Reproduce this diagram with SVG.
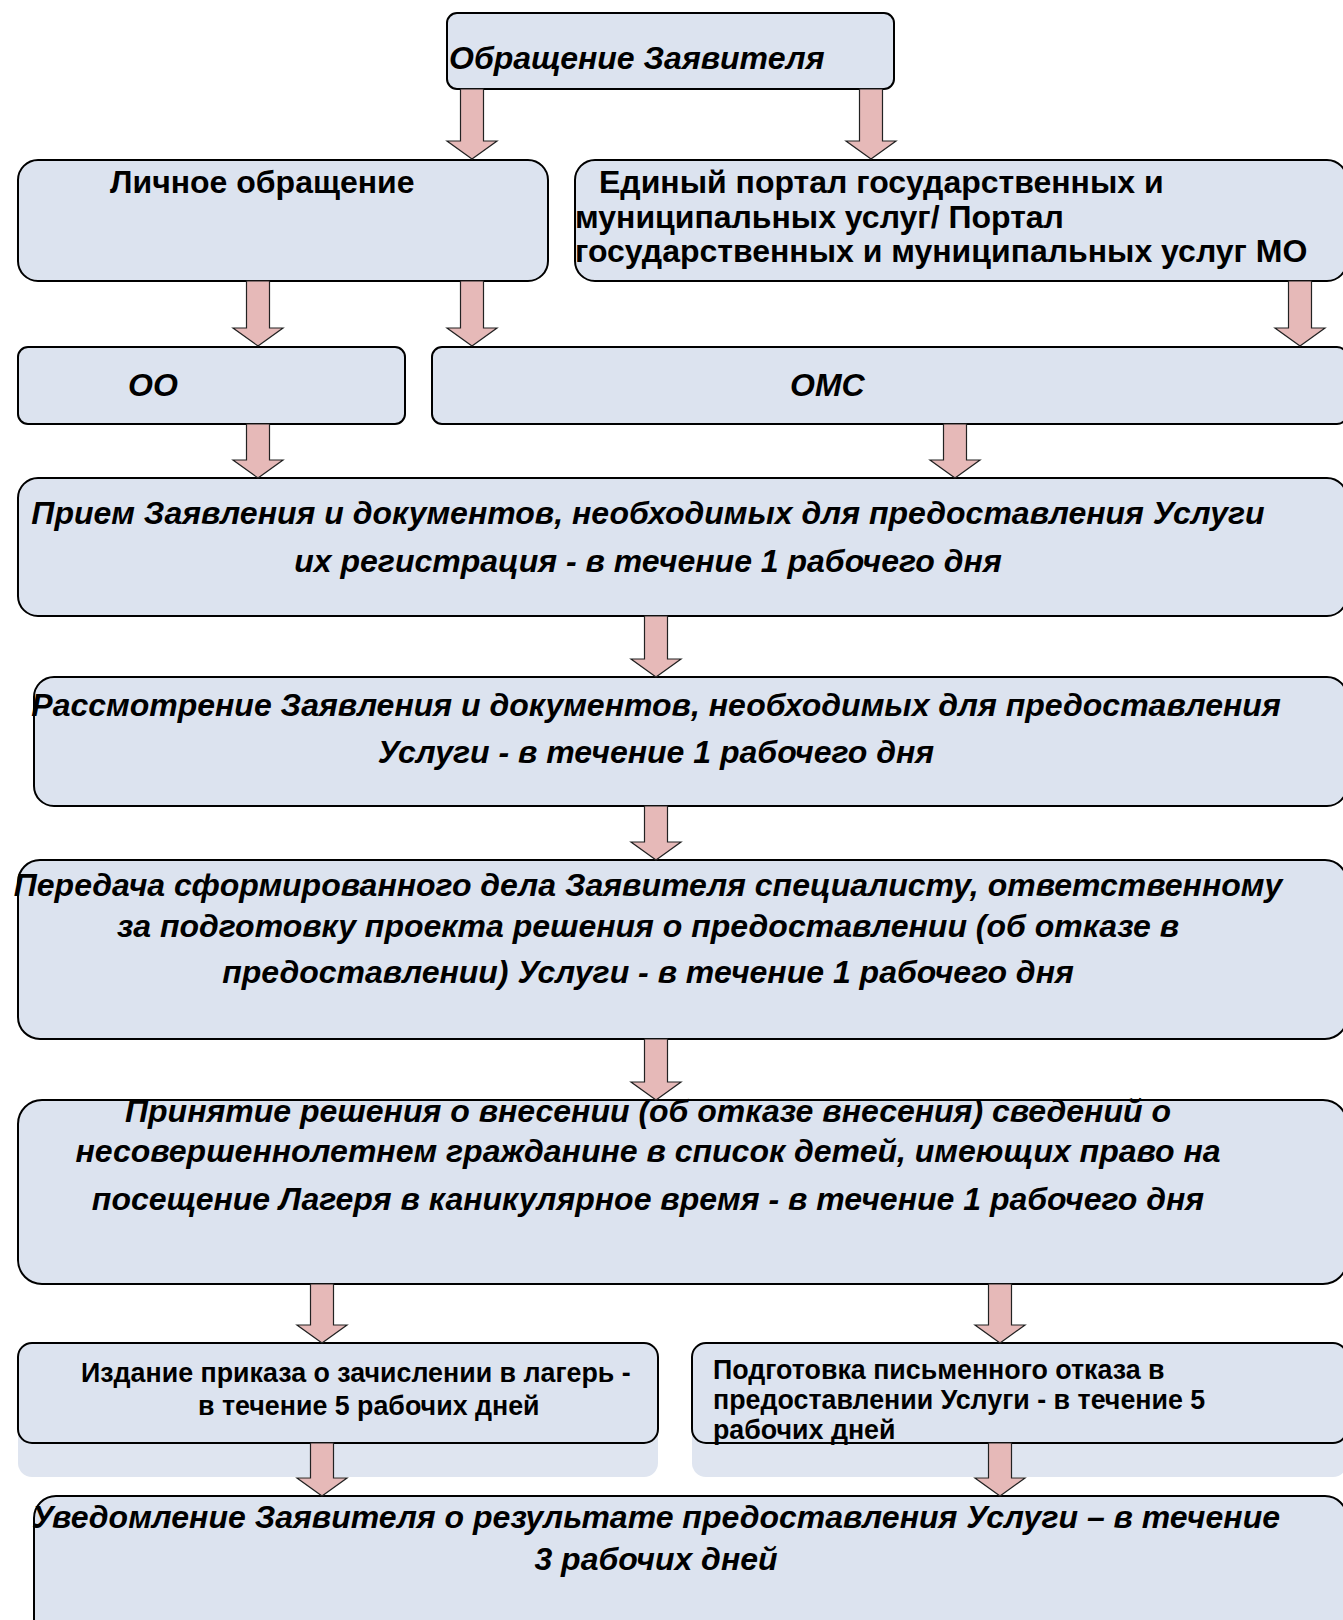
<svg xmlns="http://www.w3.org/2000/svg" width="1343" height="1620" viewBox="0 0 1343 1620">
<style>
.box{fill:#dce3ef;stroke:#000;stroke-width:2}
.shadow{fill:#dfe5f0;stroke:none}
.arr{fill:#e6b9b8;stroke:#222;stroke-width:1.2}
.t{font-family:"Liberation Sans",Arial,sans-serif;font-weight:bold;fill:#000}
.i{font-style:italic}
.f30{font-size:32px}
.f24{font-size:26.8px}
.m{text-anchor:middle}
</style>
<rect width="1343" height="1620" fill="#fff"/>
<g id="nodes">
<g id="n-obr"><rect class="box" x="447" y="13" width="447" height="76" rx="10"/><text class="t i f30" x="449" y="69">Обращение Заявителя</text></g>
<g id="n-lich"><rect class="box" x="18" y="160" width="530" height="121" rx="20"/><text class="t f30" x="110" y="193">Личное обращение</text></g>
<g id="n-portal"><rect class="box" x="575" y="160" width="772" height="121" rx="20"/><text class="t f30" x="599" y="193">Единый портал государственных и</text><text class="t f30" x="575" y="228">муниципальных услуг/ Портал</text><text class="t f30" x="575" y="262">государственных и муниципальных услуг МО</text></g>
<g id="n-oo"><rect class="box" x="18" y="347" width="387" height="77" rx="10"/><text class="t i f30" x="128" y="396">ОО</text></g>
<g id="n-oms"><rect class="box" x="432" y="347" width="915" height="77" rx="10"/><text class="t i f30" x="790" y="396">ОМС</text></g>
<g id="n-priem"><rect class="box" x="18" y="478" width="1329" height="138" rx="20"/><text class="t i f30 m" x="648" y="524">Прием Заявления и документов, необходимых для предоставления Услуги</text><text class="t i f30 m" x="648" y="572">их регистрация - в течение 1 рабочего дня</text></g>
<g id="n-rassm"><rect class="box" x="34" y="677" width="1313" height="129" rx="20"/><text class="t i f30 m" x="656" y="716">Рассмотрение Заявления и документов, необходимых для предоставления</text><text class="t i f30 m" x="656" y="763">Услуги - в течение 1 рабочего дня</text></g>
<g id="n-peredacha"><rect class="box" x="18" y="860" width="1329" height="179" rx="22"/><text class="t i f30 m" x="648" y="896">Передача сформированного дела Заявителя специалисту, ответственному</text><text class="t i f30 m" x="648" y="937">за подготовку проекта решения о предоставлении (об отказе в</text><text class="t i f30 m" x="648" y="983">предоставлении) Услуги - в течение 1 рабочего дня</text></g>
<g id="n-prinyatie"><rect class="box" x="18" y="1100" width="1329" height="184" rx="24"/><text class="t i f30 m" x="648" y="1122">Принятие решения о внесении (об отказе внесения) сведений о</text><text class="t i f30 m" x="648" y="1162">несовершеннолетнем гражданине в список детей, имеющих право на</text><text class="t i f30 m" x="648" y="1210">посещение Лагеря в каникулярное время - в течение 1 рабочего дня</text></g>
<g id="n-izdanie"><rect class="shadow" x="18" y="1400" width="640" height="77" rx="14"/><rect class="box" x="18" y="1343" width="640" height="100" rx="14"/><text class="t f24" x="81" y="1382">Издание приказа о зачислении в лагерь -</text><text class="t f24" x="198" y="1415">в течение 5 рабочих дней</text></g>
<g id="n-podgotovka"><rect class="shadow" x="692" y="1400" width="655" height="77" rx="14"/><rect class="box" x="692" y="1343" width="655" height="100" rx="14"/><text class="t f24" x="713" y="1379">Подготовка письменного отказа в</text><text class="t f24" x="713" y="1409">предоставлении Услуги - в течение 5</text><text class="t f24" x="713" y="1439">рабочих дней</text></g>
<g id="n-uved"><rect class="box" x="34" y="1496" width="1313" height="150" rx="22"/><text class="t i f30 m" x="656" y="1528">Уведомление Заявителя о результате предоставления Услуги – в течение</text><text class="t i f30 m" x="656" y="1570">3 рабочих дней</text></g>
</g>
<g id="connectors">
<path class="arr" d="M460.5 89 H483.5 V141 H497 L472 159 L447 141 H460.5 Z"/>
<path class="arr" d="M859.5 89 H882.5 V141 H896 L871 159 L846 141 H859.5 Z"/>
<path class="arr" d="M246.5 281 H269.5 V328 H283 L258 346 L233 328 H246.5 Z"/>
<path class="arr" d="M460.5 281 H483.5 V328 H497 L472 346 L447 328 H460.5 Z"/>
<path class="arr" d="M1288.5 281 H1311.5 V328 H1325 L1300 346 L1275 328 H1288.5 Z"/>
<path class="arr" d="M246.5 424 H269.5 V460 H283 L258 478 L233 460 H246.5 Z"/>
<path class="arr" d="M943.5 424 H966.5 V460 H980 L955 478 L930 460 H943.5 Z"/>
<path class="arr" d="M644.5 616 H667.5 V659 H681 L656 677 L631 659 H644.5 Z"/>
<path class="arr" d="M644.5 806 H667.5 V842 H681 L656 860 L631 842 H644.5 Z"/>
<path class="arr" d="M644.5 1039 H667.5 V1082 H681 L656 1100 L631 1082 H644.5 Z"/>
<path class="arr" d="M310.5 1284 H333.5 V1325 H347 L322 1343 L297 1325 H310.5 Z"/>
<path class="arr" d="M988.5 1284 H1011.5 V1325 H1025 L1000 1343 L975 1325 H988.5 Z"/>
<path class="arr" d="M310.5 1443 H333.5 V1478 H347 L322 1496 L297 1478 H310.5 Z"/>
<path class="arr" d="M988.5 1443 H1011.5 V1478 H1025 L1000 1496 L975 1478 H988.5 Z"/>
</g>
</svg>
